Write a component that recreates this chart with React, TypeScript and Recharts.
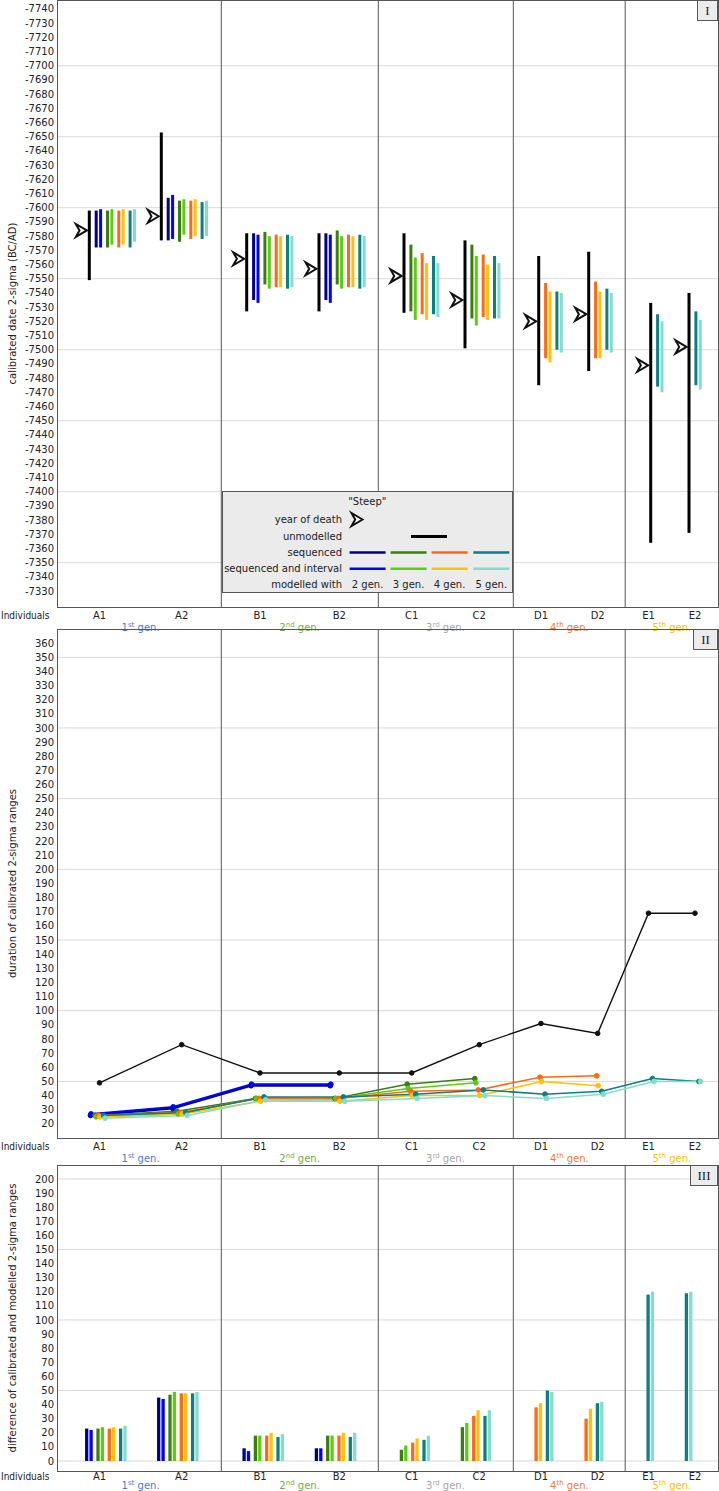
import React from 'react';
import { ComposedChart, XAxis, YAxis, ReferenceLine, Scatter, Line, Legend, Label } from 'recharts';

// ---------------- categories ----------------
const individuals = ['A1', 'A2', 'B1', 'B2', 'C1', 'C2', 'D1', 'D2', 'E1', 'E2'];
const genNumbers = ['1', '2', '3', '4', '5'];
const genSuffixes = ['st', 'nd', 'rd', 'th', 'th'];
const genColors = ['#4a78d8', '#70ad47', '#a6a6a6', '#ed7d31', '#ffc000'];
const legendGenLabels = ['2 gen.', '3 gen.', '4 gen.', '5 gen.'];

type R = [number, number] | null;

// ---------------- panel I: calibrated 2-sigma ranges (BC negative) ----------------
const yearOfDeath = [-7584, -7594, -7564, -7557, -7552, -7535, -7520, -7525, -7489, -7502];
const unmodelled: R[] = [[-7598, -7549], [-7653, -7577], [-7582, -7527], [-7582, -7527], [-7582, -7526], [-7577, -7501], [-7566, -7475], [-7569, -7485], [-7533, -7364], [-7540, -7371]];
const seq2: R[] = [[-7598, -7572], [-7607, -7577], [-7582, -7535], [-7582, -7535], null, null, null, null, null, null];
const seqInt2: R[] = [[-7599, -7572], [-7609, -7578], [-7581, -7533], [-7581, -7533], null, null, null, null, null, null];
const seq3: R[] = [[-7598, -7572], [-7605, -7576], [-7583, -7546], [-7584, -7546], [-7574, -7527], [-7574, -7522], null, null, null, null];
const seqInt3: R[] = [[-7599, -7574], [-7606, -7581], [-7580, -7543], [-7580, -7543], [-7565, -7521], [-7566, -7517], null, null, null, null];
const seq4: R[] = [[-7598, -7572], [-7605, -7578], [-7581, -7544], [-7581, -7544], [-7568, -7525], [-7567, -7523], [-7547, -7494], [-7548, -7494], null, null];
const seqInt4: R[] = [[-7599, -7574], [-7606, -7580], [-7580, -7544], [-7580, -7544], [-7561, -7521], [-7560, -7521], [-7541, -7491], [-7541, -7494], null, null];
const seq5: R[] = [[-7598, -7572], [-7604, -7578], [-7581, -7543], [-7581, -7543], [-7566, -7525], [-7566, -7522], [-7541, -7500], [-7543, -7500], [-7525, -7474], [-7527, -7475]];
const seqInt5: R[] = [[-7599, -7576], [-7605, -7580], [-7580, -7544], [-7580, -7544], [-7561, -7523], [-7561, -7522], [-7540, -7498], [-7540, -7498], [-7520, -7470], [-7521, -7472]];

// ---------------- panel II: duration of 2-sigma ranges ----------------
type N = number | null;
const durUnmodelled: N[] = [49, 76, 56, 56, 56, 76, 91, 84, 169, 169];
const durSeq2: N[] = [26, 31, 47, 47, null, null, null, null, null, null];
const durSeqInt2: N[] = [27, 32, 48, 48, null, null, null, null, null, null];
const durSeq3: N[] = [26, 29, 38, 38, 48, 52, null, null, null, null];
const durSeqInt3: N[] = [25, 27, 38, 38, 45, 49, null, null, null, null];
const durSeq4: N[] = [26, 28, 38, 38, 43, 44, 53, 54, null, null];
const durSeqInt4: N[] = [25, 27, 36, 36, 40, 40, 50, 47, null, null];
const durSeq5: N[] = [26, 28, 39, 39, 41, 44, 41, 43, 52, 50];
const durSeqInt5: N[] = [24, 26, 37, 36, 38, 40, 38, 41, 50, 50];

// ---------------- panel III: difference calibrated - modelled ----------------
const diffSeq2: N[] = [23, 45, 9, 9, null, null, null, null, null, null];
const diffSeqInt2: N[] = [22, 44, 7, 9, null, null, null, null, null, null];
const diffSeq3: N[] = [23, 47, 18, 18, 8, 24, null, null, null, null];
const diffSeqInt3: N[] = [24, 49, 18, 18, 11, 27, null, null, null, null];
const diffSeq4: N[] = [23, 48, 18, 18, 13, 32, 38, 30, null, null];
const diffSeqInt4: N[] = [24, 48, 20, 20, 16, 36, 41, 37, null, null];
const diffSeq5: N[] = [23, 48, 17, 17, 15, 32, 50, 41, 118, 119];
const diffSeqInt5: N[] = [25, 49, 19, 20, 18, 36, 49, 42, 120, 120];

// ---------------- ticks ----------------
const ticksI = Array.from({ length: 42 }, (_, k) => -7740 + k * 10);
const gridI = [-7700, -7650, -7600, -7550, -7500, -7450, -7400, -7350];
const ticksII = Array.from({ length: 35 }, (_, k) => 20 + k * 10);
const gridII = [50, 100, 150, 200, 250, 300, 350];
const ticksIII = Array.from({ length: 21 }, (_, k) => k * 10);
const gridIII = [0, 50, 100, 150, 200];

// ---------------- layout / style (not data) ----------------
const FONT = '"DejaVu Sans", Verdana, sans-serif';
const X_DOMAIN: [number, number] = [57, 718];
const labelX = [99.5, 181.7, 260, 339.3, 411.7, 479.3, 541, 597.7, 648.5, 695];
const genX = [140.6, 299.6, 445.5, 569.4, 671.8];
const clusterX = [89.3, 161.3, 246.7, 319, 404, 465, 538.7, 588.7, 650.7, 689];
const separators = [221.3, 378.3, 513.3, 625.2];
const seriesColors = ['#00008f', '#0000ff', '#3b7d0f', '#5ccc12', '#ff6a10', '#ffc20a', '#0a8080', '#85dccb'];
const pointOffsets = [-9, -8.5, -4.5, -3.5, -1, 0.5, 4, 5.5];
const PAIR_GAP = 4.4;
const GROUP_GAP = 6.9;
const BORDER = '#555';
const GRID = '#dadada';

function seriesX(present: boolean[], start: number): (number | null)[] {
  let pos: number | null = null;
  let prevK = -1;
  return present.map((p, k) => {
    if (!p) return null;
    if (pos === null) pos = start;
    else pos += k % 2 === 1 && prevK === k - 1 ? PAIR_GAP : GROUP_GAP;
    prevK = k;
    return pos;
  });
}

const ArrowMark = ({ cx, cy }: any) => (
  <path
    d={`M${cx + 5.5},${cy} L${cx - 5.5},${cy - 6.5} L${cx - 1.8},${cy} L${cx - 5.5},${cy + 6.5} Z`}
    fill="#fff"
    stroke="#111"
    strokeWidth={2}
    strokeLinejoin="miter"
  />
);

const makeIndTick = (dy: number) => (props: any) => {
  const { x, y, payload } = props;
  const i = labelX.indexOf(payload.value);
  return (
    <text x={x} y={y} dy={dy} textAnchor="middle" fontSize={10} fill="#222" fontFamily={FONT}>
      {individuals[i]}
    </text>
  );
};

const makeGenTick = (dy: number) => (props: any) => {
  const { x, y, payload } = props;
  const i = genX.indexOf(payload.value);
  return (
    <text x={x} y={y} dy={dy} textAnchor="middle" fontSize={10} fill={genColors[i]} fontFamily={FONT}>
      <tspan>{genNumbers[i]}</tspan>
      <tspan dy={-4} fontSize={7}>{genSuffixes[i]}</tspan>
      <tspan dy={4}>{' gen.'}</tspan>
    </text>
  );
};

const makeIndividualsLabel = (dy: number) => (p: any) => {
  const vb = p.viewBox || { x: 57, y: 0 };
  return (
    <text x={1} y={vb.y + dy} textAnchor="start" fontSize={10} fill="#222" fontFamily={FONT} textLength={48.5} lengthAdjust="spacingAndGlyphs">
      Individuals
    </text>
  );
};

const makeYTitle = (text: string) => (p: any) => {
  const vb = p.viewBox || { x: 0, y: 0, height: 0 };
  const cy = vb.y + vb.height / 2;
  return (
    <text x={12} y={cy} transform={`rotate(-90 12 ${cy})`} textAnchor="middle" dominantBaseline="central" fontSize={10} fill="#222" fontFamily={FONT}>
      {text}
    </text>
  );
};

const LegendBox = () => {
  const rows = [31.8, 48.5, 64.5, 80.8, 96.5];
  const lineStarts = [126.6, 167.6, 208.6, 250.3];
  return (
    <div style={{ width: 291, height: 102, background: '#ebebeb', border: `1px solid ${BORDER}`, boxSizing: 'border-box', fontFamily: FONT }}>
      <svg width={289} height={100} style={{ display: 'block' }}>
        <text x={144.3} y={12.5} textAnchor="middle" fontSize={10} fill="#222">"Steep"</text>
        <text x={119} y={rows[0] - 1} textAnchor="end" fontSize={10} fill="#222">year of death</text>
        <ArrowMark cx={134} cy={27.5} />
        <text x={119} y={rows[1] - 1} textAnchor="end" fontSize={10} fill="#222">unmodelled</text>
        <line x1={188} x2={224} y1={44.5} y2={44.5} stroke="#000" strokeWidth={3} />
        <text x={119} y={rows[2] - 1} textAnchor="end" fontSize={10} fill="#222">sequenced</text>
        <text x={119} y={rows[3] - 1} textAnchor="end" fontSize={10} fill="#222">sequenced and interval</text>
        {lineStarts.map((sx, g) => (
          <g key={g}>
            <line x1={sx} x2={sx + 36} y1={60.5} y2={60.5} stroke={seriesColors[g * 2]} strokeWidth={2.6} />
            <line x1={sx} x2={sx + 36} y1={76.8} y2={76.8} stroke={seriesColors[g * 2 + 1]} strokeWidth={2.6} />
            <text x={sx + 18} y={rows[4] - 1} textAnchor="middle" fontSize={10} fill="#222">{legendGenLabels[g]}</text>
          </g>
        ))}
        <text x={119} y={rows[4] - 1} textAnchor="end" fontSize={10} fill="#222">modelled with</text>
      </svg>
    </div>
  );
};

const PanelTag = ({ text, top, width }: { text: string; top: number; width: number }) => (
  <div style={{ position: 'absolute', left: 718 - width, top, width, height: 21, background: '#ececec', border: `1px solid ${BORDER}`, boxSizing: 'border-box', fontFamily: '"Liberation Serif", serif', fontSize: 13, textAlign: 'center', lineHeight: '19px', color: '#222' }}>
    {text}
  </div>
);

const PlotBorder = ({ top, height }: { top: number; height: number }) => (
  <div style={{ position: 'absolute', left: 57, top, width: 662, height: height + 1, border: `1px solid ${BORDER}`, boxSizing: 'border-box', pointerEvents: 'none' }} />
);

function axes(domain: [number, number], ticks: number[], title: string, reversed: boolean, indH: number, genH: number, indDy: number, genDy: number) {
  return [
    <XAxis key="xi" xAxisId={0} type="number" dataKey="x" domain={X_DOMAIN} allowDataOverflow ticks={labelX} interval={0} height={indH} tickSize={0} tickMargin={0} axisLine={false} tickLine={false} tick={makeIndTick(indDy)}>
      <Label content={makeIndividualsLabel(indDy)} />
    </XAxis>,
    <XAxis key="xg" xAxisId="gen" type="number" dataKey="x" domain={X_DOMAIN} allowDataOverflow ticks={genX} interval={0} height={genH} tickSize={0} tickMargin={0} axisLine={false} tickLine={false} tick={makeGenTick(genDy)} />,
    <YAxis key="y" yAxisId={0} type="number" dataKey="y" domain={domain} allowDataOverflow reversed={reversed} ticks={ticks} interval={0} width={57} tickSize={0} tickMargin={3} axisLine={false} tickLine={false} tick={{ fontSize: 10, fill: '#222', fontFamily: FONT }}>
      <Label content={makeYTitle(title)} />
    </YAxis>,
  ];
}

function gridAndSeparators(grid: number[]) {
  return [
    ...grid.map((g) => <ReferenceLine key={`g${g}`} y={g} stroke={GRID} strokeWidth={1} ifOverflow="visible" />),
    ...separators.map((s) => <ReferenceLine key={`s${s}`} x={s} stroke={BORDER} strokeWidth={1} ifOverflow="visible" />),
  ];
}

function PanelI() {
  const ranges = [seq2, seqInt2, seq3, seqInt3, seq4, seqInt4, seq5, seqInt5];
  const bars: { x: number; y1: number; y2: number; color: string }[] = [];
  individuals.forEach((_, i) => {
    const u = unmodelled[i];
    if (u) bars.push({ x: clusterX[i], y1: u[0], y2: u[1], color: '#000' });
    const xs = seriesX(ranges.map((r) => r[i] != null), clusterX[i] + GROUP_GAP);
    ranges.forEach((r, k) => {
      const v = r[i];
      const x = xs[k];
      if (v && x != null) bars.push({ x, y1: v[0], y2: v[1], color: seriesColors[k] });
    });
  });
  const deaths = individuals.map((_, i) => ({ x: clusterX[i] - 8, y: yearOfDeath[i] }));
  return (
    <ComposedChart width={719} height={637} margin={{ top: 0, right: 1, bottom: 0, left: 0 }}>
      {axes([-7746.3, -7318.8], ticksI, 'calibrated date 2-sigma (BC/AD)', true, 16, 14, 11.5, 8)}
      {gridAndSeparators(gridI)}
      {bars.map((b, j) => (
        <ReferenceLine key={`b${j}`} segment={[{ x: b.x, y: b.y1 }, { x: b.x, y: b.y2 }]} stroke={b.color} strokeWidth={3} ifOverflow="visible" />
      ))}
      <Scatter data={deaths} dataKey="y" shape={(p: any) => <ArrowMark cx={p.cx} cy={p.cy} />} isAnimationActive={false} />
      <Legend layout="horizontal" verticalAlign="middle" align="center" content={() => <LegendBox />} wrapperStyle={{ left: 222, top: 491, width: 291, height: 102 }} />
    </ComposedChart>
  );
}

function PanelII() {
  const series = [durSeq2, durSeqInt2, durSeq3, durSeqInt3, durSeq4, durSeqInt4, durSeq5, durSeqInt5];
  const widths = [2.2, 2, 1.5, 1.5, 1.5, 1.5, 1.5, 1.5];
  const black = individuals.map((_, i) => ({ x: labelX[i], y: durUnmodelled[i] }));
  return (
    <ComposedChart width={719} height={539} margin={{ top: 0, right: 1, bottom: 0, left: 0 }}>
      {axes([10, 370], ticksII, 'duration of calibrated 2-sigma ranges', false, 16, 14, 11.5, 8)}
      {gridAndSeparators(gridII)}
      <Line data={black} dataKey="y" stroke="#111" strokeWidth={1.4} dot={{ r: 2.3, fill: '#111', stroke: '#111', strokeWidth: 1 }} isAnimationActive={false} />
      {series.map((s, k) => {
        const pts = individuals
          .map((_, i) => (s[i] != null ? { x: labelX[i] + pointOffsets[k], y: s[i] } : null))
          .filter(Boolean);
        return (
          <Line key={k} data={pts as any[]} dataKey="y" stroke={seriesColors[k]} strokeWidth={widths[k]} dot={{ r: 2.4, fill: seriesColors[k], stroke: seriesColors[k], strokeWidth: 1 }} isAnimationActive={false} />
        );
      })}
    </ComposedChart>
  );
}

function PanelIII() {
  const series = [diffSeq2, diffSeqInt2, diffSeq3, diffSeqInt3, diffSeq4, diffSeqInt4, diffSeq5, diffSeqInt5];
  const bars: { x: number; v: number; color: string }[] = [];
  individuals.forEach((_, i) => {
    const xs = seriesX(series.map((s) => s[i] != null), clusterX[i] - 2.6);
    series.forEach((s, k) => {
      const v = s[i];
      const x = xs[k];
      if (v != null && x != null) bars.push({ x, v, color: seriesColors[k] });
    });
  });
  return (
    <ComposedChart width={719} height={326} margin={{ top: 0, right: 1, bottom: 0, left: 0 }}>
      {axes([-7.1, 209.9], ticksIII, 'difference of calibrated and modelled 2-sigma ranges', false, 10, 10, 9.3, 8.3)}
      {gridAndSeparators(gridIII)}
      {bars.map((b, j) => (
        <ReferenceLine key={`d${j}`} segment={[{ x: b.x, y: 0 }, { x: b.x, y: b.v }]} stroke={b.color} strokeWidth={3.3} ifOverflow="visible" />
      ))}
    </ComposedChart>
  );
}

export default function App() {
  return (
    <div style={{ position: 'absolute', left: 0, top: 0, width: 719, height: 1491, background: '#fff', fontFamily: FONT, overflow: 'hidden' }}>
      <div style={{ position: 'absolute', left: 0, top: 0 }}>
        <PanelI />
      </div>
      <div style={{ position: 'absolute', left: 0, top: 629 }}>
        <PanelII />
      </div>
      <div style={{ position: 'absolute', left: 0, top: 1165 }}>
        <PanelIII />
      </div>
      <PlotBorder top={0} height={607} />
      <PlotBorder top={629} height={509} />
      <PlotBorder top={1165} height={306} />
      <PanelTag text="I" top={0} width={21} />
      <PanelTag text="II" top={629} width={25} />
      <PanelTag text="III" top={1165} width={28} />
    </div>
  );
}
